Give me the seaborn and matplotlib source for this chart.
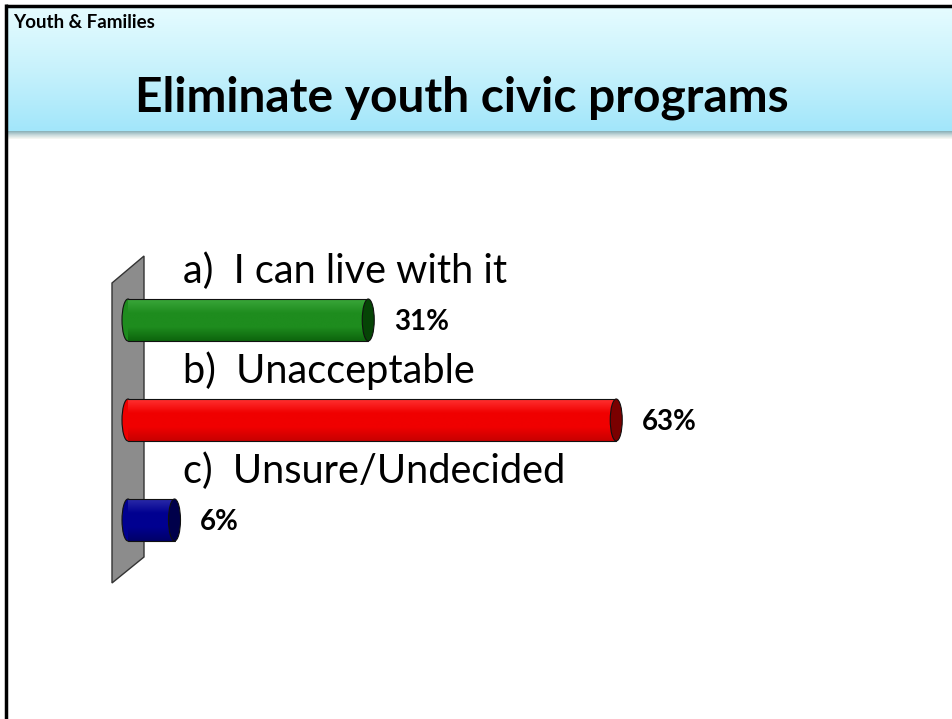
import numpy as np
import pandas as pd
import matplotlib
matplotlib.use("Agg")
import matplotlib.pyplot as plt
import seaborn as sns
from matplotlib.patches import Ellipse, Polygon
from matplotlib.colors import LinearSegmentedColormap

# data
categories = ["a)  I can live with it", "b)  Unacceptable", "c)  Unsure/Undecided"]
values = [31, 63, 6]
value_labels = ["31%", "63%", "6%"]
header_label = "Youth & Families"
title = "Eliminate youth civic programs"

# body colours: (top highlight, middle, bottom shade, cap)
bar_colors = [
    ("#3aa63a", "#1e8c1e", "#0d650d", "#064406"),
    ("#ff3030", "#f00000", "#c80000", "#7a0000"),
    ("#2a2aa8", "#000090", "#000068", "#00004a"),
]

sns.set_theme(style="white")
plt.rcParams["font.family"] = ["Lato", "DejaVu Sans"]
plt.rcParams["text.color"] = "black"

W, H = 953, 719
fig = plt.figure(figsize=(W / 100, H / 100), dpi=100)

# background layer in pixel coordinates
bg = fig.add_axes([0, 0, 1, 1], zorder=-1)
bg.set_xlim(0, W)
bg.set_ylim(H, 0)
bg.axis("off")

header_cmap = LinearSegmentedColormap.from_list("hdr", ["#e6fcff", "#c8f2fc", "#a2e6fa"])
grad = np.linspace(0, 1, 256).reshape(-1, 1)
bg.imshow(grad, cmap=header_cmap, extent=[6, W, 131, 6], aspect="auto")
shadow_cmap = LinearSegmentedColormap.from_list("shd", ["#86aeb6", "#c9dadc", "#fbfbf6"])
bg.imshow(grad, cmap=shadow_cmap, extent=[6, W, 139, 131], aspect="auto")
bg.plot([6, W], [5.5, 5.5], color="black", lw=2.5, solid_capstyle="butt")
bg.plot([6, 6], [4, H], color="black", lw=2.5, solid_capstyle="butt")

bg.text(13, 23, header_label, fontsize=13.5, fontweight="bold", ha="left", va="center")
bg.text(462, 98, title, fontsize=34.5, fontweight="bold", ha="center", va="center")

# grey side wall
bg.add_patch(Polygon([(112, 283), (144, 256), (144, 557), (112, 583)], closed=True,
                     facecolor="#8c8c8c", edgecolor="#333333", lw=1))

# main chart axes
ax = fig.add_axes([128 / W, (H - 620) / H, 775 / W, 400 / H])
ax.patch.set_alpha(0)
df = pd.DataFrame({"category": categories, "value": values})
bar_h = 0.42
sns.barplot(data=df, x="value", y="category", hue="category", orient="h",
            palette=[c[1] for c in bar_colors], width=bar_h, legend=False, ax=ax)
ax.set_xlim(0, 100)
ax.set_ylim(3, -1)
ax.axis("off")

cap_w = 1.55
for i, (patch, val) in enumerate(zip(ax.patches, values)):
    top, mid, bot, cap = bar_colors[i]
    patch.set_edgecolor("none")
    y0, y1 = i - bar_h / 2, i + bar_h / 2
    # rounded left end
    ax.add_patch(Ellipse((0, i), cap_w, bar_h, facecolor=mid, edgecolor="#111111",
                         lw=0.8, zorder=1.5, clip_on=False))
    cmap = LinearSegmentedColormap.from_list("c%d" % i, [top, mid, mid, bot])
    im = ax.imshow(np.linspace(0, 1, 64).reshape(-1, 1), cmap=cmap, aspect="auto",
                   extent=[0, val, y1, y0], zorder=2)
    im.set_clip_path(patch)
    ax.plot([0, val], [y0, y0], color="#111111", lw=0.8, zorder=3)
    ax.plot([0, val], [y1, y1], color="#111111", lw=0.8, zorder=3)
    # right end cap
    ax.add_patch(Ellipse((val, i), cap_w, bar_h, facecolor=cap, edgecolor="#111111",
                         lw=0.8, zorder=4))
    ax.text(val + 3.3, i + 0.02, value_labels[i], fontsize=20, fontweight="bold",
            ha="left", va="center")
    ax.text(7.1, i - 0.37, categories[i], fontsize=28.6, ha="left", va="baseline")

ax.set_xlim(0, 100)
ax.set_ylim(3, -1)

fig.savefig("out.png", dpi=100)
